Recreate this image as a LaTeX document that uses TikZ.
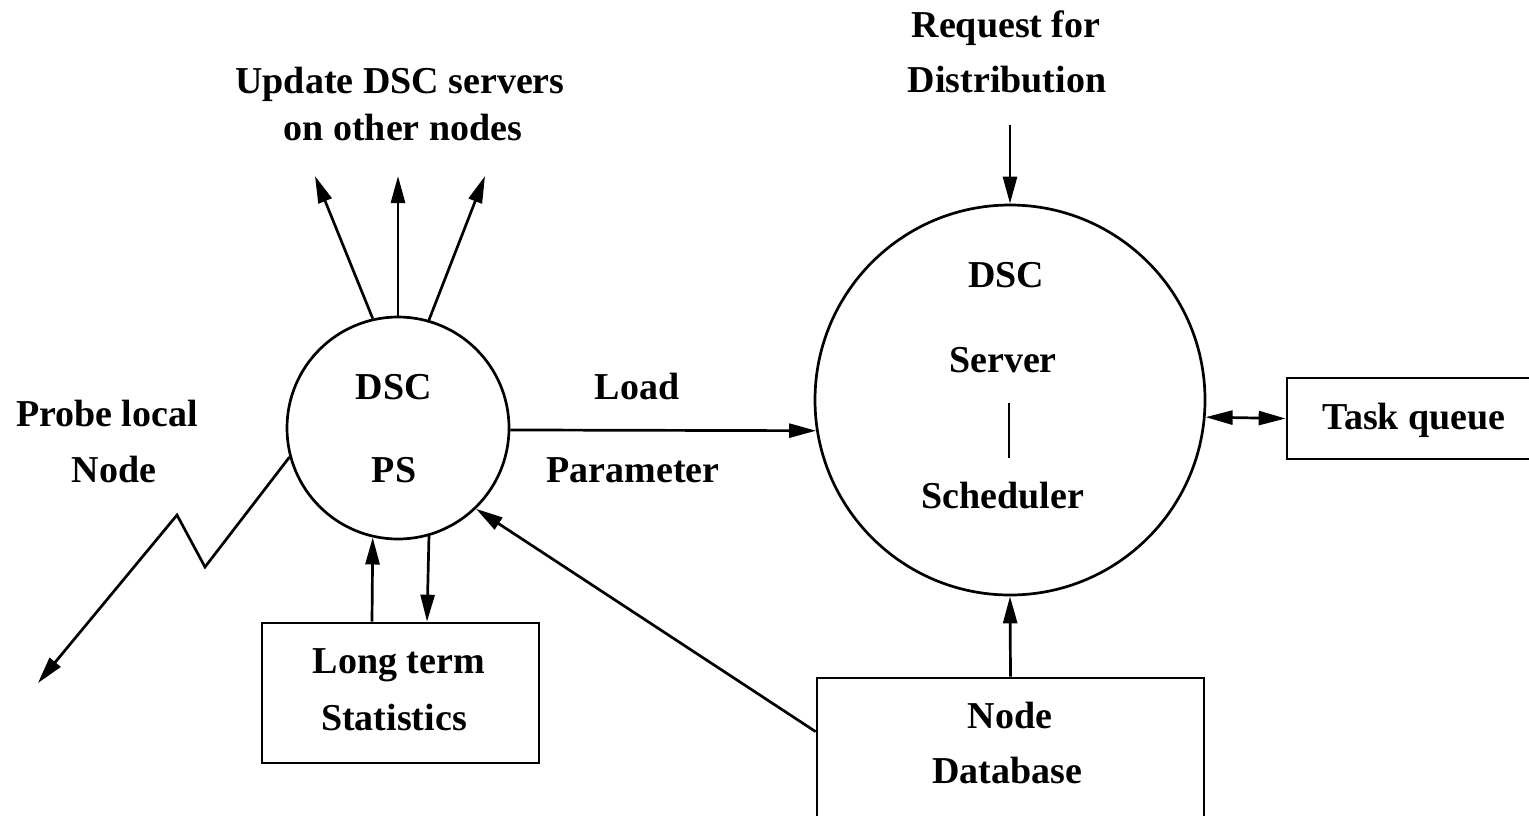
\documentclass[tikz,border=0pt]{standalone}
\usepackage{fontspec}
\setmainfont{Liberation Serif}
\usetikzlibrary{arrows.meta}
\tikzset{
  lab/.style={font=\fontsize{19}{23}\selectfont\bfseries, anchor=base, inner sep=0pt},
  conn/.style={line width=1.35pt},
  arr/.style={conn, -{Triangle[length=13.5pt,width=7pt]}},
  darr/.style={conn, {Triangle[length=13.5pt,width=7pt]}-{Triangle[length=13.5pt,width=7pt]}},
  ring/.style={circle, draw, line width=1.35pt, inner sep=0pt},
  boxx/.style={rectangle, draw, line width=1.35pt, inner sep=0pt}
}
\begin{document}
\begin{tikzpicture}[x=0.5pt, y=-0.5pt]
\clip (0,0) rectangle (1529,815);
\fill[white] (0,0) rectangle (1529,815);

% shapes
\node[ring, minimum size=111pt] (ps) at (398,428) {};
\node[ring, minimum size=195pt] (srv) at (1010,400) {};
\node[boxx, minimum width=138.5pt, minimum height=70pt] (lts) at (400.5,693) {};
\node[boxx, minimum width=193.5pt, minimum height=81pt] (ndb) at (1010.5,759) {};
\node[boxx, minimum width=136.5pt, minimum height=40.5pt] (tq) at (1423.5,418.5) {};

% texts
\node[lab] (t_up1) at (400,93) {Update DSC servers};
\node[lab] (t_up2) at (403,140) {on other nodes};
\node[lab] (t_rq1) at (1006,37) {Request for};
\node[lab] (t_rq2) at (1007,92) {Distribution};
\node[lab] (t_pb1) at (107,426) {Probe local};
\node[lab] (t_pb2) at (114,482) {Node};
\node[lab] (t_ps1) at (394,399) {DSC};
\node[lab] (t_ps2) at (394,482) {PS};
\node[lab] (t_ld1) at (637,399) {Load};
\node[lab] (t_ld2) at (633,482) {Parameter};
\node[lab] (t_sv1) at (1006,287) {DSC};
\node[lab] (t_sv2) at (1003,372) {Server};
\node[lab] (t_sv3) at (1003,508) {Scheduler};
\node[lab] (t_tq) at (1414,429) {Task queue};
\node[lab] (t_lt1) at (399,673) {Long term};
\node[lab] (t_lt2) at (394,730) {Statistics};
\node[lab] (t_nd1) at (1010,728) {Node};
\node[lab] (t_nd2) at (1007,783) {Database};

% bar inside server
\coordinate (bar1) at (1009,403);
\coordinate (bar2) at (1009,458);
\draw[conn] (bar1) -- (bar2);

% free ends
\coordinate (u1) at (315,176);
\coordinate (u2) at (398,176);
\coordinate (u3) at (485,176);
\coordinate (rq) at (1010,125);
\coordinate (zA) at (205,567);
\coordinate (zB) at (177,515);
\coordinate (zC) at (38,683);

% connectors
\draw[arr] (ps.103.3) -- (u1);
\draw[arr] (ps.90) -- (u2);
\draw[arr] (ps.74.6) -- (u3);
\draw[arr] (rq) -- (srv.north);
\draw[arr] (ps.-1.5) -- (srv.189.1);
\draw[darr] (srv.-5.6) -- (tq.west);
\draw[arr] (ndb.north) -- (srv.south);
\draw[arr] (ndb.172.35) -- (ps.-46.4);
\draw[arr] ([xshift=-14.25pt]lts.north) -- (ps.-103.5);
\draw[arr] (ps.-74.9) -- ([xshift=13.25pt]lts.north);
\draw[arr] (ps.195.7) -- (zA) -- (zB) -- (zC);
\end{tikzpicture}
\end{document}
